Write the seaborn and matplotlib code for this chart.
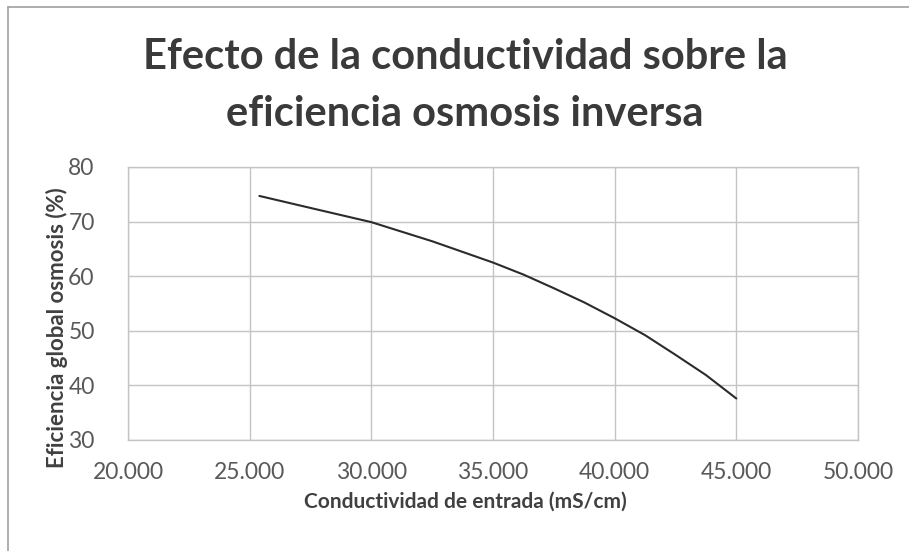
import matplotlib
matplotlib.use("Agg")
import matplotlib.pyplot as plt
from matplotlib.lines import Line2D
from matplotlib.ticker import FuncFormatter
import seaborn as sns
import pandas as pd

# Data
conductividad = [25400, 27500, 30000, 32500, 35000, 36250, 37500, 38750,
                 40000, 41250, 42500, 43750, 45000]
eficiencia = [74.7, 72.5, 69.9, 66.4, 62.5, 60.3, 57.8, 55.2,
              52.3, 49.2, 45.6, 41.9, 37.6]

x_ticks = [20000, 25000, 30000, 35000, 40000, 45000, 50000]
y_ticks = [30, 40, 50, 60, 70, 80]

title_lines = ["Efecto de la conductividad sobre la", "eficiencia osmosis inversa"]
xlabel = "Conductividad de entrada (mS/cm)"
ylabel = "Eficiencia global osmosis (%)"

df = pd.DataFrame({"x": conductividad, "y": eficiencia})

sns.set_theme(style="white")
plt.rcParams["font.family"] = ["Lato", "DejaVu Sans"]

W, H = 909, 551
fig = plt.figure(figsize=(W / 100, H / 100), dpi=100)
fig.patch.set_facecolor("white")
ax = fig.add_axes([128 / W, 1 - 440 / H, 730 / W, 273 / H])

sns.lineplot(data=df, x="x", y="y", ax=ax, color="#2b2b2b", linewidth=1.5)

ax.set_xlim(20000, 50000)
ax.set_ylim(30, 80)
ax.set_xticks(x_ticks)
ax.set_yticks(y_ticks)
ax.xaxis.set_major_formatter(FuncFormatter(lambda v, p: f"{int(v):,}".replace(",", ".")))
ax.grid(True, color="#c4c4c4", linewidth=1.0)
for s in ax.spines.values():
    s.set_color("#c4c4c4")
    s.set_linewidth(1.0)
ax.tick_params(axis="x", length=0, labelsize=16.5, labelcolor="#595959", pad=16)
ax.tick_params(axis="y", length=0, labelsize=16.5, labelcolor="#595959", pad=24)
ax.set_xlabel("")
ax.set_ylabel("")

fig.text(465 / W, 1 - 502 / H, xlabel, ha="center", va="center", fontsize=15,
         fontweight="bold", color="#404040")
fig.text(57 / W, 1 - 328 / H, ylabel, ha="center", va="center", fontsize=16,
         fontweight="bold", color="#404040", rotation=90)

fig.text(465 / W, 1 - 69 / H, title_lines[0], ha="center", va="baseline", fontsize=30,
         fontweight="bold", color="#3a3a3a")
fig.text(465 / W, 1 - 126 / H, title_lines[1], ha="center", va="baseline", fontsize=30,
         fontweight="bold", color="#3a3a3a")

# outer chart border (scan)
fig.add_artist(Line2D([8 / W, 8 / W], [0, 1 - 7 / H], color="#a0a0a0", linewidth=1.2))
fig.add_artist(Line2D([8 / W, 1], [1 - 7 / H, 1 - 7 / H], color="#a0a0a0", linewidth=1.2))

fig.savefig("out.png", dpi=100)
